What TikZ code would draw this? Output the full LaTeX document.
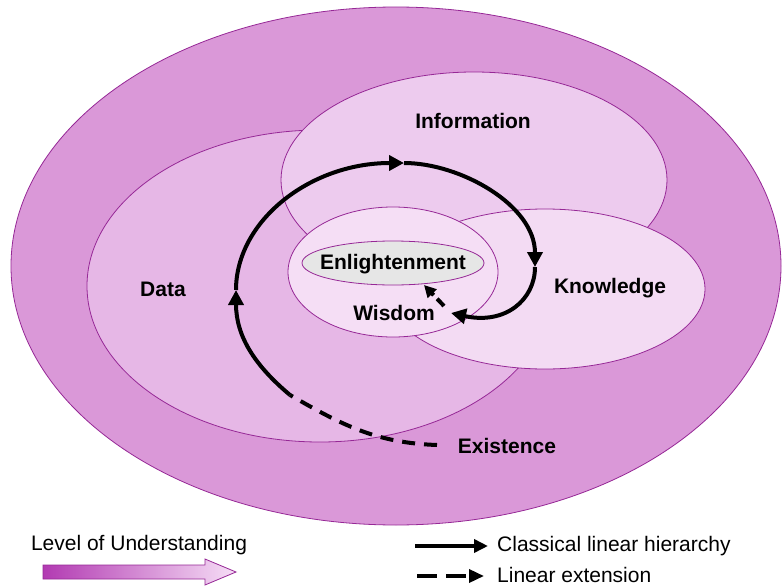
\documentclass[tikz,border=0pt]{standalone}
\usepackage{fontspec}
\setmainfont{Liberation Sans}
\usetikzlibrary{arrows.meta}
\definecolor{outerfill}{RGB}{218,152,216}
\definecolor{datafill}{RGB}{230,183,230}
\definecolor{infofill}{RGB}{237,203,238}
\definecolor{knowfill}{RGB}{243,219,243}
\definecolor{wisfill}{RGB}{245,222,245}
\definecolor{enlfill}{RGB}{230,230,230}
\definecolor{edge}{RGB}{150,40,150}
\definecolor{gradl}{RGB}{178,58,178}
\definecolor{gradr}{RGB}{246,222,246}
\tikzset{
  ring/.style={draw=edge, line width=0.8pt},
  lbl/.style={font=\fontsize{21}{25}\selectfont\bfseries, inner sep=0pt},
  legtext/.style={font=\fontsize{21}{25}\selectfont, inner sep=0pt},
  flow/.style={line width=4pt, -{Triangle[length=15pt,width=15pt]}},
  flowdash/.style={line width=4pt, dash pattern=on 13pt off 9pt},
}
\begin{document}
\begin{tikzpicture}[x=1pt,y=1pt]
\useasboundingbox (0,0) rectangle (782,-586);
\fill[white] (0,0) rectangle (782,-586);
% nested regions
\draw[ring, fill=outerfill] (396,-266) ellipse [x radius=385pt, y radius=259pt];
\draw[ring, fill=datafill] (320,-286) ellipse [x radius=233pt, y radius=156pt];
\draw[ring, fill=infofill] (474,-180) ellipse [x radius=193pt, y radius=108pt];
\draw[ring, fill=knowfill] (545,-289) ellipse [x radius=160pt, y radius=80pt];
\draw[ring, fill=wisfill] (393,-272) ellipse [x radius=105pt, y radius=65pt];
\draw[ring, fill=enlfill] (393,-263) ellipse [x radius=91pt, y radius=22pt];
% labels
\node[lbl] (info) at (473,-121) {Information};
\node[lbl] (data) at (163,-289) {Data};
\node[lbl] (know) at (610,-288) {Knowledge};
\node[lbl] (wis) at (394,-313) {Wisdom};
\node[lbl] (enl) at (393,-264) {Enlightenment};
\node[lbl] (exist) at (507,-446) {Existence};
% spiral coordinates
\coordinate (e0) at (437,-445);
\coordinate (s1) at (290,-395);
\coordinate (a1) at (236,-290);
\coordinate (a2) at (404,-163);
\coordinate (a3) at (535,-267);
\coordinate (w1) at (451,-313);
\coordinate (w2) at (444,-306);
\coordinate (w3) at (424,-285);
% spiral
\draw[flowdash] (e0) to[out=178,in=-30] (s1);
\draw[flow] (s1) to[out=140,in=-90] (a1);
\draw[flow] (a1) .. controls (236,-221) and (310,-163) .. (a2);
\draw[flow] (a2) .. controls (460,-163) and (535,-205) .. (a3);
\draw[flow] (a3) .. controls (535,-300) and (505,-325) .. (w1);
\draw[line width=4pt, dash pattern=on 10pt off 5pt, -{Triangle[length=12pt,width=12pt]}] (w2) -- (w3);
% legend
\node[legtext] (lou) at (139,-545) {Level of Understanding};
\shadedraw[left color=gradl, right color=gradr, draw=edge, line width=0.8pt]
  (43,-565) -- (205,-565) -- (205,-559) -- (236,-572) -- (205,-585) -- (205,-579) -- (43,-579) -- cycle;
\coordinate (la1) at (415,-546);
\coordinate (la2) at (488,-546);
\coordinate (lb1) at (417,-576);
\coordinate (lb2) at (484,-576);
\draw[line width=3.5pt, -{Triangle[length=14pt,width=13pt]}] (la1) -- (la2);
\draw[line width=3.5pt, dash pattern=on 20pt off 9pt, -{Triangle[length=15pt,width=13pt]}] (lb1) -- (lb2);
\node[legtext, anchor=west] (clh) at (497,-546) {Classical linear hierarchy};
\node[legtext, anchor=west] (lext) at (497,-575) {Linear extension};
\end{tikzpicture}
\end{document}
